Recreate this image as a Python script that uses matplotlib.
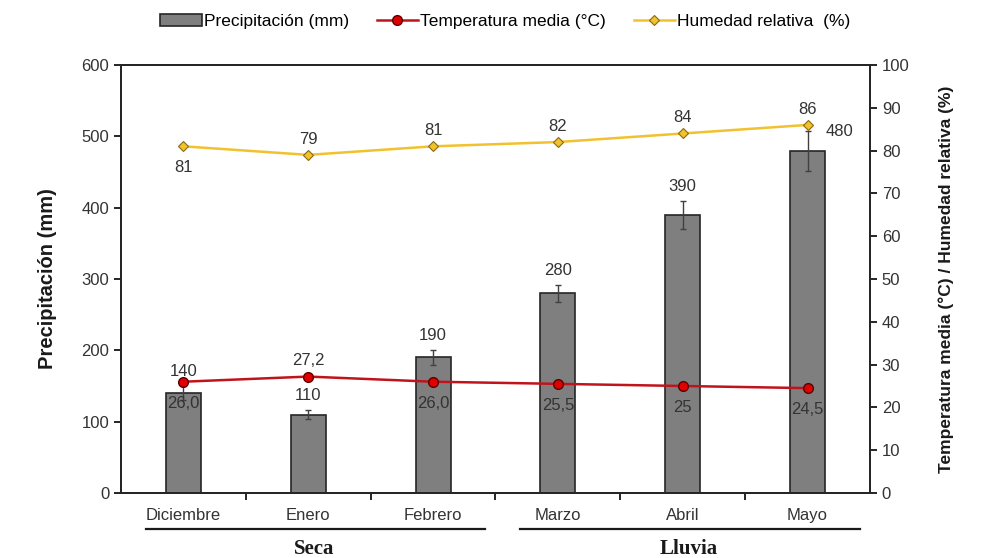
import matplotlib
matplotlib.use("Agg")
import matplotlib.pyplot as plt
import numpy as np

months = ["Diciembre", "Enero", "Febrero", "Marzo", "Abril", "Mayo"]
precip = [140, 110, 190, 280, 390, 480]
precip_err = [10, 6, 10, 12, 20, 28]
temp = [26.0, 27.2, 26.0, 25.5, 25.0, 24.5]
temp_labels = ["26,0", "27,2", "26,0", "25,5", "25", "24,5"]
hum = [81, 79, 81, 82, 84, 86]
hum_labels = ["81", "79", "81", "82", "84", "86"]
seasons = ["Seca", "Lluvia"]

FS = 12
plt.rcParams['font.family'] = ['Liberation Sans', 'DejaVu Sans']
fig = plt.figure(figsize=(9.85, 5.58), dpi=100)
ax = fig.add_axes([0.1228, 0.1165, 0.7604, 0.767])
x = np.arange(len(months))
ax.bar(x, precip, width=0.28, color="#7f7f7f", edgecolor="#262626", linewidth=1.2,
       yerr=precip_err, error_kw=dict(ecolor="#404040", elinewidth=1, capsize=2.5, capthick=1),
       label="Precipitación (mm)", zorder=2)
ax.set_xlim(-0.5, len(months) - 0.5)
ax.set_ylim(0, 600)
ax.set_yticks(range(0, 601, 100))
ax.set_xticks(x)
ax.set_xticklabels(months, fontsize=FS, color="#333333")
ax.set_xticks(np.arange(0.5, len(months) - 0.5, 1), minor=True)
ax.tick_params(axis="x", which="major", length=0, pad=11)
ax.tick_params(axis="x", which="minor", length=5, width=1.2, direction="out")
ax.tick_params(axis="y", length=5, width=1.2, direction="out", labelsize=FS, labelcolor="#333333")
ax.set_ylabel("Precipitación (mm)", fontsize=14.5, fontweight="bold", color="#1a1a1a")
ax.yaxis.set_label_coords(-0.085, 0.5)
for s in ax.spines.values():
    s.set_linewidth(1.4)
    s.set_color("#262626")

for i, v in enumerate(precip):
    if i == 5:
        ax.annotate(str(v), (x[i], v), xytext=(23, 8), textcoords="offset points",
                    ha="center", va="bottom", fontsize=FS, color="#333333")
    else:
        ax.annotate(str(v), (x[i], v + precip_err[i]), xytext=(0, 5), textcoords="offset points",
                    ha="center", va="bottom", fontsize=FS, color="#333333")

ax2 = ax.twinx()
ax2.set_ylim(0, 100)
ax2.set_yticks(range(0, 101, 10))
ax2.tick_params(axis="y", length=5, width=1.2, direction="out", labelsize=FS, labelcolor="#333333")
ax2.set_ylabel("Temperatura media (°C) / Humedad relativa (%)", fontsize=12.5, fontweight="bold",
               color="#1a1a1a")
ax2.yaxis.set_label_coords(1.091, 0.5)
for s in ax2.spines.values():
    s.set_linewidth(1.4)
    s.set_color("#262626")

ax2.plot(x, temp, color="#c0141c", linewidth=1.8, marker="o", markersize=7,
         markerfacecolor="#e00000", markeredgecolor="#5a0000", markeredgewidth=1,
         label="Temperatura media (°C)", zorder=3)
ax2.plot(x, hum, color="#f2c12e", linewidth=1.8, marker="D", markersize=5,
         markerfacecolor="#f2c12e", markeredgecolor="#8a6a10", markeredgewidth=0.8,
         label="Humedad relativa  (%)", zorder=3)

for i, (v, t) in enumerate(zip(temp, temp_labels)):
    if i == 1:
        ax2.annotate(t, (x[i], v), xytext=(0, 6), textcoords="offset points",
                     ha="center", va="bottom", fontsize=FS, color="#333333")
    else:
        ax2.annotate(t, (x[i], v), xytext=(0, -10), textcoords="offset points",
                     ha="center", va="top", fontsize=FS, color="#333333")
for i, (v, t) in enumerate(zip(hum, hum_labels)):
    if i == 0:
        ax2.annotate(t, (x[i], v), xytext=(0, -10), textcoords="offset points",
                     ha="center", va="top", fontsize=FS, color="#333333")
    else:
        ax2.annotate(t, (x[i], v), xytext=(0, 6), textcoords="offset points",
                     ha="center", va="bottom", fontsize=FS, color="#333333")

h1, l1 = ax.get_legend_handles_labels()
h2, l2 = ax2.get_legend_handles_labels()
fig.legend(h1 + h2, l1 + l2, loc="center", bbox_to_anchor=(0.513, 0.962), ncol=3,
           frameon=False, fontsize=12.5, handlelength=2.4, columnspacing=1.6, handletextpad=0.1)

# season groupings
groups = [(0, 2), (3, 5)]
for (a, b), name in zip(groups, seasons):
    ax.plot([a - 0.3, b + 0.42], [-0.085, -0.085], transform=ax.get_xaxis_transform(),
            color="#1a1a1a", linewidth=1.6, clip_on=False)
    ax.text((a + b) / 2 + 0.05, -0.107, name, transform=ax.get_xaxis_transform(),
            ha="center", va="top", fontsize=15, fontweight="bold", family="Liberation Serif",
            color="#1a1a1a")

fig.savefig("out.png", dpi=100)
